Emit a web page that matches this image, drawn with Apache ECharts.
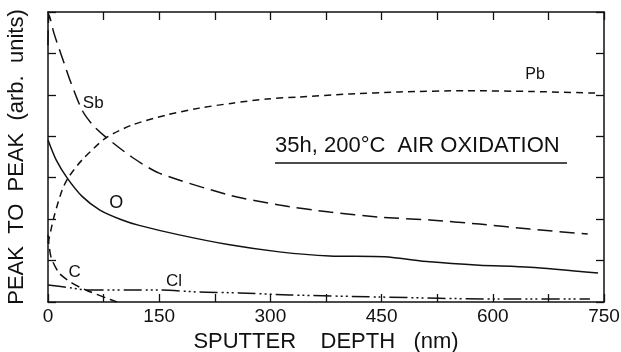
<!DOCTYPE html>
<html>
<head>
<meta charset="utf-8">
<script src="https://cdn.jsdelivr.net/npm/echarts@6/dist/echarts.min.js"></script>
<style>
  html, body { margin: 0; padding: 0; background: #fff; }
  #chart { width: 621px; height: 352px; }
</style>
</head>
<body>
<div id="chart"></div>
<script>
// depth (nm), peak-to-peak (arb. units)
const sb = [[0, 6.2], [1.5, 6.93], [8, 6.49], [19, 5.91], [31, 5.29], [46, 4.63], [60, 4.28],
  [78, 3.98], [113, 3.5], [150, 3.11], [245, 2.58], [312, 2.34], [380, 2.17], [447, 2.05],
  [515, 1.98], [582, 1.88], [650, 1.76], [728, 1.64]];
const pb = [[0, 1.42], [1.5, 1.54], [8, 2.05], [19, 2.7], [28, 3.02], [46, 3.43], [78, 3.96],
  [113, 4.27], [159, 4.51], [204, 4.68], [249, 4.8], [295, 4.9], [339, 4.95], [407, 5.02],
  [474, 5.07], [565, 5.1], [654, 5.08], [744, 5.04]];
const oxy = [[0, 3.91], [11, 3.43], [26, 2.99], [46, 2.55], [70, 2.22], [100, 1.98], [123, 1.85],
  [177, 1.62], [245, 1.38], [312, 1.21], [380, 1.11], [454, 1.09], [515, 0.97], [582, 0.89],
  [650, 0.84], [742, 0.7]];
const carbon = [[0, 1.62], [4, 1.09], [15, 0.7], [32, 0.46], [51, 0.29], [78, 0.1], [93, 0]];
const chlorine = [[0, 0.41], [32, 0.34], [51, 0.29], [150, 0.29], [204, 0.24], [258, 0.22],
  [326, 0.17], [447, 0.12], [609, 0.07], [731, 0.07]];

const xTickLabels = [0, 150, 300, 450, 600, 750];
// curve labels: [text, depth, value, fontSize]
const curveLabels = [['Sb', 61, 4.8, 17], ['Pb', 657, 5.48, 16], ['O', 92, 2.39, 18],
  ['C', 36, 0.72, 17], ['Cl', 170, 0.51, 17]];

const FONT = 'Liberation Sans';
const INK = '#111';

const chart = echarts.init(document.getElementById('chart'));

function curve(name, data, dash) {
  return {
    name: name,
    type: 'line',
    data: data,
    symbol: 'none',
    smooth: 0.25,
    silent: true,
    lineStyle: { color: INK, width: 1.5, type: dash },
  };
}

const tickStyle = { show: true, inside: true, length: 8, lineStyle: { color: INK, width: 1.3 } };
const axisLine = { show: true, onZero: false, lineStyle: { color: INK, width: 1.5 } };

const option = {
  animation: false,
  backgroundColor: '#fff',
  grid: { left: 48, right: 17, top: 12, bottom: 50, outerBoundsMode: 'none', containLabel: false },
  xAxis: [
    {
      type: 'value', min: 0, max: 750, interval: 75,
      axisLine: axisLine, axisTick: tickStyle, splitLine: { show: false },
      axisLabel: {
        color: INK, fontFamily: FONT, fontSize: 19, margin: 5,
        formatter: (v) => (xTickLabels.indexOf(v) >= 0 ? String(v) : ''),
      },
      name: 'SPUTTER    DEPTH   (nm)', nameLocation: 'middle', nameGap: 28,
      nameTextStyle: { color: INK, fontFamily: FONT, fontSize: 22 },
    },
    {
      type: 'value', position: 'top', min: 0, max: 750, interval: 75,
      axisLine: axisLine, axisTick: tickStyle, axisLabel: { show: false }, splitLine: { show: false },
    },
  ],
  yAxis: [
    {
      type: 'value', min: 0, max: 7, interval: 1,
      axisLine: axisLine, axisTick: tickStyle, axisLabel: { show: false }, splitLine: { show: false },
      name: 'PEAK  TO  PEAK  (arb.  units)', nameLocation: 'middle', nameGap: 20,
      nameTextStyle: { color: INK, fontFamily: FONT, fontSize: 22 },
    },
    {
      type: 'value', position: 'right', min: 0, max: 7, interval: 1,
      axisLine: axisLine, axisTick: tickStyle, axisLabel: { show: false }, splitLine: { show: false },
    },
  ],
  series: [
    curve('Sb', sb, [15, 7]),
    curve('Pb', pb, [7, 5]),
    curve('O', oxy, 'solid'),
    curve('C', carbon, [9, 5]),
    curve('Cl', chlorine, [18, 4, 2, 3, 2, 3, 2, 4]),
  ],
};

chart.setOption(option);

// curve names and the title, placed through the chart's own scales
const labelGraphics = curveLabels.map((d) => {
  const p = chart.convertToPixel({ gridIndex: 0 }, [d[1], d[2]]);
  return {
    type: 'text', x: p[0], y: p[1],
    style: {
      text: d[0], fill: INK, font: d[3] + 'px "Liberation Sans"',
      align: 'center', verticalAlign: 'middle',
    },
  };
});

chart.setOption({
  graphic: labelGraphics.concat([
    {
      type: 'text', left: 275, top: 135,
      style: { text: '35h, 200°C  AIR OXIDATION', fill: INK, font: '22px "Liberation Sans"' },
    },
    {
      type: 'line',
      shape: { x1: 275, y1: 163, x2: 567, y2: 163 },
      style: { stroke: INK, lineWidth: 1.6 },
    },
  ]),
});
</script>
</body>
</html>
